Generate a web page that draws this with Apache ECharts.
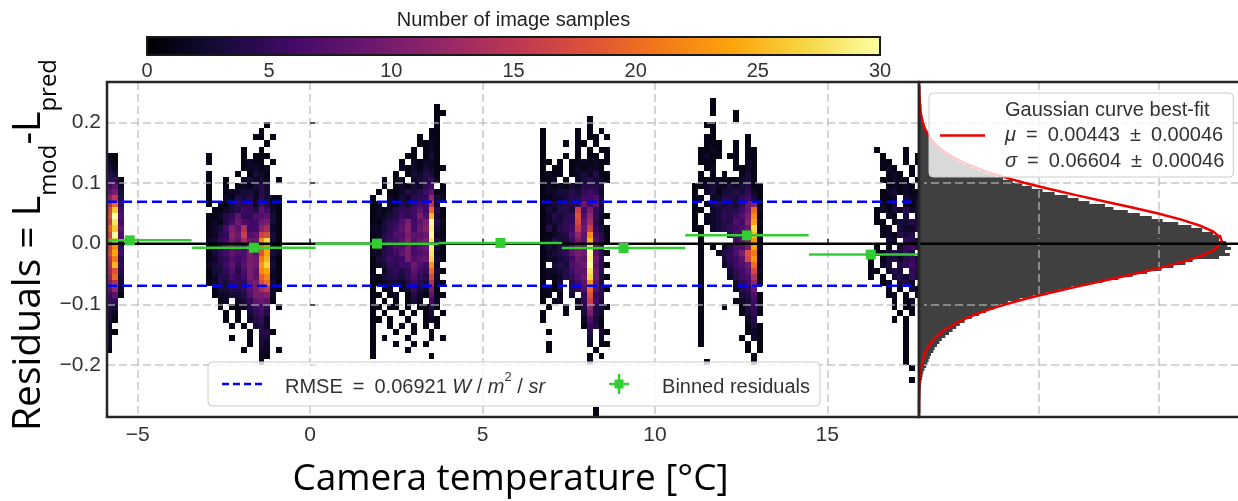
<!DOCTYPE html>
<html><head><meta charset="utf-8">
<script src="https://cdn.jsdelivr.net/npm/echarts@6/dist/echarts.min.js"></script>
<style>html,body{margin:0;padding:0;background:#fff}#c{width:1238px;height:501px}</style>
</head><body><div id="c"></div>
<script>
// ---------------- data ----------------
const tempRange = [-5.89, 17.66];          // camera temperature axis extent
const residRange = [-0.2857, 0.2664];      // residual axis extent
const colorbarRange = [0, 30];             // number of image samples
const histCountMax = 2.825;                // histogram count axis extent (arbitrary units)

// 2D histogram binning (bin edges)
const xBinStart = -5.915, xBinWidth = 0.17, yBinTop = 0.26, yBinHeight = 0.01;
// cell codes: '.'=0, '1'..'9'=1..9, 'a'..'u'=10..30 ; origin = [first column bin, first row bin]
const clusterA_origin = [0, 11];
const clusterA_rows = ["11.","21.","32.","43.","551","682","8a3","bf4","ek5","hq6","iu7","gs6","jq8","hu7","ir6","gm5","ho6","fl4","ep5","di4","ck3","ae3","8c2","681","55.","43.","32.","31.","2..","21.","2..","2..","1.."];
const clusterB_origin = [17, 6];
const clusterB_rows = ["..........1..",".........1...","........11.1.","..........1..","......1..1...","1.....1.111..","1.....1211.1.","......12212..","1....1.1321..","1..1..23232.1","1..1.121343..","1..12233243..","1..2143425311","1.11354526421",".112346548621","1124585577831","1214697669a31","1236a8e66bd21","1245b9g78gh31","2356a8d99mr31","1247986a9kn21","1356877a8io32","1245767a9lp21","2346858a9nr31","1335747a8mo21","1244656a8jm21","12435559ahk31",".1334458adf21",".1223347aab2.","..12.2358981.","..1.1124675.1","...1.1.3564..","...1.1.2452..","....1.1.342..",".......1.441.","....1..1.33..",".......1.32..","......1..22.1",".........21..",".........1..."];
const clusterC_origin = [45, 3];
const clusterC_rows = ["...........1.","...........11","...........1.","...........1.","..........11.","........1.11.","........1121.",".......1.121.","......11.131.",".....1.21221.",".....21213211","....1.132431.","..1.12.23452.","..1.1213256.1",".1.1124346811","1..2132455c32","11.2243566f2.","1212455686k41","12234656a7p31","113457a68au42","223568b69bt31","124577a889u21","224668b79as42","133577a689t31","224568a678s21","134656a789r31","1235566976n2.","1.24545865k31","2134435754h2.","1123324643e21","1.12.23532a1.","11.12.1421811","1.1.1.131.62.","11.11.1.1141.","1.1..1.1.13.1","11.1..1..121.","1..1.1.1.1.1.","1...1..1..1..","1.1...1...1.1","1...1..1.1...","1.....1......","1.........1.."];
const clusterD_origin = [74, 5];
const clusterD_rows = ["........1...","........1...","1.....1.1.1.","1.....1.11.1","1...1.11.1..","1.....1.1.11","1...1.1.11.1","11.1.1121211","1.11.121221.","1211.1232411","112.1.234321","12121324443.","12233435652.","11223446673.","12334459683.","132443g6a53.","124345i7c521","123355h8d42.","142456f9g531","112347c8m641","124336a8p751","13244799t84.","123458a9u841","12234698t95.","1.343789u841","12234688s94.","12124579r931","1.13.468n83.","1213.457k741","11.1.3.5i54.","1.12..25g63.",".1..1.14c431","1...1..3a42.","1......2731.",".......1541.",".1......4.31","........3.2.",".1......2.11",".1.......1..","........1.1.","........1...","............","............","............","............","............","............","............",".........1..",".........1.."];
const clusterE_origin = [100, 2];
const clusterE_rows = ["...1........","...1........","...1...1....",".......1....","..11........","...1........","..11.....1..","..111..1.1..",".1121..1.11.",".1211.11.11.",".111...1.21.","..12...1121.",".1.1.1..131.",".1112111231.","112322323411","1.2313343521","11.224435631","1.13434359b1","11.2344469k2","1.2235467am1","1.1234476bo2","11.2345679r1",".1....4769p2",".1.....68bn1",".1.1.2477ao2",".1..1457ail1",".1...3568hn2",".1...24679k1",".1....3568h2",".1....2467e1",".1.....356c2",".1.....2459.",".1......3471",".1.....12361",".1...1..1452",".1......1351",".1.......24.",".1.......131",".1.......121",".1......1.21",".1.......1.1",".........1.1","..........1.","..1.......1."];
const clusterF_origin = [130, 10];
const clusterF_rows = [".1....1..","..1...1.1","..11..1.1","..121..1.","...121.1.","..11211.1","...12121.","..1231211","..112.322","..213.213",".12132423",".1.21.3.2",".11.23343","..12.3224","..121434.","...32.543",".1.2.3564",".1124353.","1.1342453","1.23.4564","11.243.54","1.1.34253","..12.342.","...2.1.31","...12.1.2","....1.12.","....1.11.",".....1.1.","....1.1..","......1..","......1..","......1..","......1..","......1..","......1..","......1..",".......1.",".........",".......1."];

// binned residuals
const binCenters = [-5.23, -1.63, 1.94, 5.52, 9.09, 12.67, 16.26];
const binMeans = [0.0054, -0.0066, 0.0000, 0.0012, -0.0072, 0.0137, -0.0180];
const binHalfWidths = [1.79, 1.79, 1.79, 1.79, 1.79, 1.79, 1.79];
const binErrors = [0.003, 0.002, 0.002, 0.002, 0.002, 0.003, 0.004];
const rmse = 0.06921;

// marginal histogram of residuals (bins of 0.005 starting at -0.28)
const histBinStart = -0.28, histBinWidth = 0.005;
const histCounts = [0.005,0.005,0.005,0.005,0.005,0.01,0.01,0.01,0.015,0.015,0.02,0.025,0.03,0.035,0.045,0.06,0.07,0.08,0.09,0.10,0.12,0.13,0.15,0.17,0.19,0.22,0.25,0.28,0.31,0.34,0.38,0.44,0.50,0.56,0.62,0.68,0.74,0.84,0.95,1.06,1.17,1.27,1.40,1.53,1.66,1.78,1.90,2.02,2.12,2.22,2.28,2.50,2.59,2.55,2.60,2.57,
  2.56,2.50,2.52,2.45,2.36,2.27,2.16,2.03,1.94,1.84,1.74,1.62,1.55,1.42,1.33,1.24,1.13,1.03,0.94,0.86,0.78,0.70,0.63,0.56,0.49,0.43,0.37,0.32,0.28,0.24,0.20,0.17,0.14,0.12,0.10,0.08,0.07,0.055,0.05,0.04,0.035,0.03,0.025,0.02,0.02,0.02,0.01,0.015,0.01,0.01,0.01,0.01];

// Gaussian best-fit curve
const gaussMu = 0.00443, gaussMuErr = 0.00046, gaussSigma = 0.06604, gaussSigmaErr = 0.00046;
const gaussResidual = [0.26,0.25,0.24,0.23,0.22,0.21,0.20,0.19,0.18,0.17,0.16,0.15,0.14,0.13,0.12,0.11,0.10,0.09,0.08,0.07,0.06,0.05,0.04,0.03,0.02,0.01,0.005,0.00,-0.01,-0.02,-0.03,-0.04,-0.05,-0.06,-0.07,-0.08,-0.09,-0.10,-0.11,-0.12,-0.13,-0.14,-0.15,-0.16,-0.17,-0.18,-0.19,-0.20,-0.21,-0.22,-0.23,-0.24,-0.25,-0.26,-0.27,-0.28];
const gaussCount = [0.0014,0.0025,0.0043,0.0073,0.0121,0.0197,0.0312,0.0483,0.0731,0.108,0.156,0.221,0.305,0.412,0.543,0.700,0.883,1.087,1.308,1.538,1.767,1.985,2.179,2.337,2.451,2.511,2.522,2.514,2.461,2.353,2.200,2.010,1.793,1.566,1.335,1.112,0.906,0.721,0.561,0.427,0.317,0.230,0.163,0.113,0.0768,0.0509,0.0330,0.0208,0.0129,0.0078,0.0046,0.0026,0.0015,0.0008,0.0004,0.0002];

// ---------------- build ----------------
function decodeCell(ch) {
  if (ch === '.') return 0;
  if (ch >= '1' && ch <= '9') return ch.charCodeAt(0) - 48;
  return ch.charCodeAt(0) - 97 + 10;
}
function clusterCells(origin, rows) {
  const out = [];
  rows.forEach((row, r) => {
    for (let c = 0; c < row.length; c++) {
      const n = decodeCell(row[c]);
      if (n > 0) {
        const i = origin[0] + c, j = origin[1] + r;
        out.push([xBinStart + i * xBinWidth, yBinTop - (j + 1) * yBinHeight, n]);
      }
    }
  });
  return out;
}
const heatCells = [].concat(
  clusterCells(clusterA_origin, clusterA_rows),
  clusterCells(clusterB_origin, clusterB_rows),
  clusterCells(clusterC_origin, clusterC_rows),
  clusterCells(clusterD_origin, clusterD_rows),
  clusterCells(clusterE_origin, clusterE_rows),
  clusterCells(clusterF_origin, clusterF_rows)
);
const binnedData = binCenters.map((t, k) => [t, binMeans[k], binHalfWidths[k], binErrors[k]]);
const histData = histCounts.map((n, k) => [n, histBinStart + (k + 0.5) * histBinWidth]);
const gaussData = gaussResidual.map((r, k) => [gaussCount[k], r]);

const inferno = ['#000004','#160b39','#420a68','#6a176e','#932667','#bc3754','#dd513a','#f37819','#fca50a','#f6d746','#fcffa4'];
const GREEN = '#33cc33';
const FRAME = '#262626';
const GRIDC = 'rgba(185,185,185,0.6)';
const TICKF = 'Liberation Sans';

const chart = echarts.init(document.getElementById('c'), null, {renderer: 'canvas', width: 1238, height: 501});

const fmtX = v => { const r = Math.round(v); return r < 0 ? '\u2212' + (-r) : String(r); };
const fmtY = v => (v < -1e-9 ? '\u2212' : '') + Math.abs(v).toFixed(1);

const splitDash = {show: true, lineStyle: {color: GRIDC, width: 2, type: [8, 4]}};
const tickIn = {show: true, inside: true, length: 5, lineStyle: {color: FRAME, width: 1.5}};

const legendRich = {
  n: {fontSize: 20, fontFamily: TICKF, color: '#333', lineHeight: 26, verticalAlign: 'bottom'},
  i: {fontSize: 20, fontFamily: TICKF, fontStyle: 'italic', color: '#333', lineHeight: 26, verticalAlign: 'bottom'},
  s: {fontSize: 13, fontFamily: TICKF, color: '#333', lineHeight: 13, verticalAlign: 'top'}
};
const gaussRich = {
  n: {fontSize: 20, fontFamily: TICKF, color: '#333', lineHeight: 25.5},
  i: {fontSize: 20, fontFamily: TICKF, fontStyle: 'italic', color: '#333', lineHeight: 25.5}
};
const SP = '\u2002';

const option = {
  animation: false,
  backgroundColor: '#fff',
  textStyle: {fontFamily: TICKF},
  grid: [
    {left: 107, top: 82, width: 812, height: 335, show: true, borderColor: FRAME, borderWidth: 2.5, backgroundColor: 'transparent', z: 7, outerBoundsMode: 'none', containLabel: false},
    {left: 919, top: 82, width: 339, height: 335, show: true, borderColor: FRAME, borderWidth: 2.5, backgroundColor: 'transparent', z: 7, outerBoundsMode: 'none', containLabel: false},
    {left: 147, top: 37, width: 733, height: 18, show: true, borderColor: '#1a1a1a', borderWidth: 2, backgroundColor: 'transparent', z: 7, outerBoundsMode: 'none', containLabel: false}
  ],
  xAxis: [
    {gridIndex: 0, type: 'value', min: tempRange[0], max: tempRange[1], z: 3,
     axisLine: {show: false}, axisTick: tickIn, splitLine: splitDash,
     axisLabel: {showMinLabel: false, showMaxLabel: false, fontSize: 21, color: '#333', margin: 8, formatter: fmtX, fontFamily: TICKF}},
    {gridIndex: 1, type: 'value', min: 0, max: histCountMax, interval: 1, z: 3,
     axisLine: {show: false}, axisTick: tickIn, splitLine: splitDash, axisLabel: {show: false}},
    {gridIndex: 2, type: 'value', min: colorbarRange[0], max: colorbarRange[1], interval: 5,
     axisLine: {show: false}, axisTick: {show: false}, splitLine: {show: false},
     axisLabel: {fontSize: 20, color: '#333', margin: 6, fontFamily: TICKF}}
  ],
  yAxis: [
    {gridIndex: 0, type: 'value', min: residRange[0], max: residRange[1], z: 3,
     axisLine: {show: false}, axisTick: tickIn, splitLine: splitDash,
     axisLabel: {showMinLabel: false, showMaxLabel: false, fontSize: 21, color: '#333', margin: 6, formatter: fmtY, fontFamily: TICKF}},
    {gridIndex: 1, type: 'value', min: residRange[0], max: residRange[1], z: 3,
     axisLine: {show: false}, axisTick: tickIn, splitLine: splitDash, axisLabel: {show: false}},
    {gridIndex: 2, type: 'value', min: 0, max: 1, show: false}
  ],
  visualMap: {
    type: 'continuous', min: colorbarRange[0], max: colorbarRange[1], dimension: 2, seriesIndex: 0,
    show: false, inRange: {color: inferno}
  },
  legend: [
    {
      data: [
        {name: 'rmse', icon: 'path://M0,0h7v2.5h-7zM11,0h7v2.5h-7zM22,0h7v2.5h-7zM33,0h7v2.5h-7z', itemStyle: {borderWidth: 0}},
        {name: 'Binned residuals', icon: 'path://M0,8.8h20v2.4H0zM8.8,0h2.4v20H8.8zM5.5,5.5h9v9h-9z', itemStyle: {borderWidth: 0}}
      ],
      left: 208, top: 362, orient: 'horizontal', itemWidth: 40, itemHeight: 20, itemGap: 64,
      padding: [9, 10, 9, 14], backgroundColor: 'rgba(255,255,255,0.8)', borderColor: '#cccccc',
      borderWidth: 1, borderRadius: 4, z: 10, selectedMode: false,
      formatter: name => name === 'rmse'
        ? `{n|RMSE${SP}=${SP}${rmse.toFixed(5)} }{i|W}{n| / }{i|m}{s|2}{n| / }{i|sr}`
        : `{n|${name}}`,
      textStyle: {fontSize: 20, color: '#333', padding: [0, 0, 0, 18], rich: legendRich}
    },
    {
      data: [{name: 'gauss', icon: 'path://M0,0h45v2.5H0z', itemStyle: {borderWidth: 0}}],
      left: 929, top: 93, itemWidth: 45, itemHeight: 20,
      padding: [7, 9, 6, 11], backgroundColor: 'rgba(255,255,255,0.8)', borderColor: '#cccccc',
      borderWidth: 1, borderRadius: 4, z: 10, selectedMode: false,
      formatter: () => `{n|Gaussian curve best-fit}\n{i|μ}{n|${SP}=${SP}${gaussMu.toFixed(5)}${SP}±${SP}${gaussMuErr.toFixed(5)}}\n{i|σ}{n|${SP}=${SP}${gaussSigma.toFixed(5)}${SP}±${SP}${gaussSigmaErr.toFixed(5)}}`,
      textStyle: {fontSize: 20, color: '#333', padding: [0, 0, 0, 15], rich: gaussRich}
    }
  ],
  graphic: [
    {type: 'text', x: 510.5, y: 479, z: 20, style: {text: 'Camera temperature [°C]', fontSize: 37, fontFamily: 'Open Sans', fill: '#000', align: 'center', verticalAlign: 'middle'}},
    {type: 'text', x: 35, y: 245, rotation: Math.PI / 2, z: 20, style: {
      text: '{n|Residuals = L}{s|mod}{n|-L}{s|pred}', align: 'center', verticalAlign: 'middle',
      rich: {
        n: {fontSize: 39, fontFamily: 'Open Sans', fill: '#000', lineHeight: 52, verticalAlign: 'top'},
        s: {fontSize: 24, fontFamily: 'Open Sans', fill: '#000', lineHeight: 24, verticalAlign: 'bottom'}
      }}},
    {type: 'text', x: 513.5, y: 20, z: 20, style: {text: 'Number of image samples', fontSize: 20, fontFamily: TICKF, fill: '#222', align: 'center', verticalAlign: 'middle'}}
  ],
  series: [
    { // 0: 2D histogram
      type: 'custom', name: 'heat', xAxisIndex: 0, yAxisIndex: 0, data: heatCells,
      dimensions: ['x', 'y', 'count'], encode: {x: 0, y: 1}, clip: true, z: 2, silent: true, progressive: 0,
      renderItem: (params, api) => {
        const x = api.value(0), y = api.value(1);
        const p1 = api.coord([x, y + yBinHeight]);
        const p2 = api.coord([x + xBinWidth, y]);
        const x0 = Math.round(p1[0]), y0 = Math.round(p1[1]);
        return {type: 'rect', shape: {x: x0, y: y0, width: Math.round(p2[0]) - x0, height: Math.round(p2[1]) - y0},
                style: {fill: api.visual('color')}};
      }
    },
    { // 1,2: RMSE bands
      type: 'line', name: 'rmse', xAxisIndex: 0, yAxisIndex: 0, z: 4, silent: true, symbol: 'none',
      color: '#0000ff', itemStyle: {color: '#0000ff'},
      lineStyle: {color: '#0000ff', width: 2.5, type: [10, 5]},
      data: [[tempRange[0], rmse], [tempRange[1], rmse]]
    },
    {
      type: 'line', name: 'rmse', xAxisIndex: 0, yAxisIndex: 0, z: 4, silent: true, symbol: 'none',
      color: '#0000ff', itemStyle: {color: '#0000ff'},
      lineStyle: {color: '#0000ff', width: 2.5, type: [10, 5]},
      data: [[tempRange[0], -rmse], [tempRange[1], -rmse]]
    },
    { // 3: zero line main
      type: 'line', name: 'zero', xAxisIndex: 0, yAxisIndex: 0, z: 5, silent: true, symbol: 'none',
      lineStyle: {color: '#000', width: 2.5}, data: [[tempRange[0], 0], [tempRange[1], 0]]
    },
    { // 4: binned residuals
      type: 'custom', name: 'Binned residuals', xAxisIndex: 0, yAxisIndex: 0, z: 6, silent: true, clip: true,
      itemStyle: {color: GREEN}, data: binnedData, encode: {x: 0, y: 1},
      renderItem: (params, api) => {
        const x = api.value(0), y = api.value(1), xe = api.value(2), ye = api.value(3);
        const pl = api.coord([x - xe, y]), pr = api.coord([x + xe, y]);
        const pt = api.coord([x, y + ye]), pb = api.coord([x, y - ye]);
        const c = api.coord([x, y]);
        return {type: 'group', children: [
          {type: 'line', shape: {x1: pl[0], y1: pl[1], x2: pr[0], y2: pr[1]}, style: {stroke: GREEN, lineWidth: 2.5}},
          {type: 'line', shape: {x1: pt[0], y1: pt[1], x2: pb[0], y2: pb[1]}, style: {stroke: GREEN, lineWidth: 2.5}},
          {type: 'rect', shape: {x: c[0] - 5, y: c[1] - 5, width: 10, height: 10}, style: {fill: GREEN}}
        ]};
      }
    },
    { // 5: marginal histogram
      type: 'custom', name: 'hist', xAxisIndex: 1, yAxisIndex: 1, z: 2, silent: true, clip: true,
      data: histData, encode: {x: 0, y: 1},
      renderItem: (params, api) => {
        const n = api.value(0), y = api.value(1);
        const p1 = api.coord([0, y + histBinWidth / 2]);
        const p2 = api.coord([n, y - histBinWidth / 2]);
        const y0 = Math.round(p1[1]);
        return {type: 'rect', shape: {x: p1[0], y: y0, width: p2[0] - p1[0], height: Math.round(p2[1]) - y0},
                style: {fill: '#404040'}};
      }
    },
    { // 6: gaussian fit
      type: 'line', name: 'gauss', xAxisIndex: 1, yAxisIndex: 1, z: 4, silent: true, symbol: 'none',
      color: '#ee0000', itemStyle: {color: '#ee0000'},
      lineStyle: {color: '#ee0000', width: 2.5}, data: gaussData
    },
    { // 7: zero line hist
      type: 'line', name: 'zero2', xAxisIndex: 1, yAxisIndex: 1, z: 5, silent: true, symbol: 'none',
      lineStyle: {color: '#000', width: 2.5}, data: [[0, 0], [histCountMax, 0]]
    },
    { // 8: colorbar
      type: 'custom', name: 'colorbar', xAxisIndex: 2, yAxisIndex: 2, z: 2, silent: true,
      data: [[colorbarRange[0], colorbarRange[1]]], encode: {x: [0, 1]},
      renderItem: (params, api) => {
        const a = api.coord([api.value(0), 1]);
        const b = api.coord([api.value(1), 0]);
        const stops = inferno.map((c, k) => ({offset: k / (inferno.length - 1), color: c}));
        return {type: 'rect', shape: {x: a[0], y: a[1], width: b[0] - a[0], height: b[1] - a[1]},
                style: {fill: new echarts.graphic.LinearGradient(0, 0, 1, 0, stops)}};
      }
    }
  ]
};
chart.setOption(option);
</script></body></html>
